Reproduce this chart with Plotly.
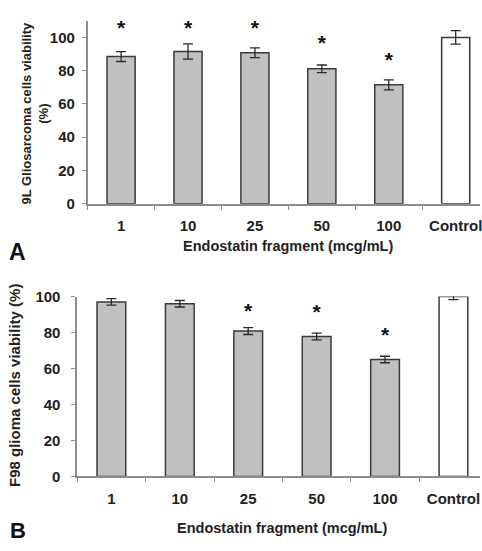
import plotly.graph_objects as go

categories = ["1", "10", "25", "50", "100", "Control"]

# Panel A: 9L gliosarcoma
a_values = [88.5, 91.5, 90.8, 81.1, 71.5, 100.0]
a_errors = [3.0, 4.6, 2.9, 2.3, 3.0, 4.1]
a_star_y = [104.5, 104.5, 104.5, 95.5, 85.5]
a_star_cats = ["1", "10", "25", "50", "100"]

# Panel B: F98 glioma
b_values = [97.0, 96.0, 80.8, 77.8, 65.0, 100.0]
b_errors = [1.8, 1.8, 1.9, 1.9, 1.8, 1.7]
b_star_y = [91.0, 90.3, 77.5]
b_star_cats = ["25", "50", "100"]

y_ticks = [0, 20, 40, 60, 80, 100]

bar_fill = ["#c0c0c0"] * 5 + ["#ffffff"]
FONT = "Liberation Sans, Arial, sans-serif"

fig = go.Figure()

def add_panel(values, errors, star_cats, star_y, xa, ya):
    fig.add_trace(go.Bar(
        x=categories, y=values, width=0.42,
        marker=dict(color=bar_fill, line=dict(color="#3a3a3a", width=1.5)),
        error_y=dict(type="data", array=errors, visible=True, color="#2a2a2a",
                     thickness=1.3, width=5),
        xaxis=xa, yaxis=ya, showlegend=False, cliponaxis=False,
    ))
    fig.add_trace(go.Scatter(
        x=star_cats, y=star_y, mode="text", text=["*"] * len(star_cats),
        textfont=dict(family=FONT, size=21, color="#111111", weight="bold"),
        textposition="middle center",
        xaxis=xa, yaxis=ya, showlegend=False, cliponaxis=False,
    ))

add_panel(a_values, a_errors, a_star_cats, a_star_y, "x", "y")
add_panel(b_values, b_errors, b_star_cats, b_star_y, "x2", "y2")

axis_common = dict(
    showline=True, linecolor="#8c8c8c", linewidth=1.5,
    showgrid=False, zeroline=False,
    ticks="outside", tickcolor="#8c8c8c", ticklen=4, tickwidth=1,
    tickfont=dict(family=FONT, size=15, color="#222222", weight="bold"),
)

fig.update_layout(
    width=482, height=551,
    margin=dict(l=0, r=0, t=0, b=0),
    paper_bgcolor="white", plot_bgcolor="white",
    bargap=0.58,
    xaxis=dict(**axis_common, domain=[88/482, 1], range=[-0.5, 5.363],
               type="category", tickson="boundaries", anchor="y",
               ticklabelstandoff=7),
    yaxis=dict(**axis_common, domain=[0.6352, 0.978], range=[0, 110],
               tickvals=y_ticks, anchor="x", ticklabelstandoff=4),
    xaxis2=dict(**axis_common, domain=[77.5/482, 1], range=[-0.5, 5.388],
                type="category", tickson="boundaries", anchor="y2",
                ticklabelstandoff=8),
    yaxis2=dict(**axis_common, domain=[0.1247, 0.4615], range=[0, 100],
                tickvals=y_ticks, anchor="x2", ticklabelstandoff=8),
    font=dict(family=FONT),
)

ann_font = dict(family=FONT, size=14.5, color="#222222", weight="bold")
fig.add_annotation(text="Endostatin fragment (mcg/mL)", xref="paper", yref="paper",
                   x=289/482, y=1 - 245/551, showarrow=False, font=ann_font,
                   xanchor="center", yanchor="middle")
fig.add_annotation(text="Endostatin fragment (mcg/mL)", xref="paper", yref="paper",
                   x=283/482, y=1 - 535.7/551, showarrow=False, font=ann_font,
                   xanchor="center", yanchor="middle")
fig.add_annotation(text="9L Gliosarcoma cells viability<br>(%)", xref="paper", yref="paper",
                   x=35/482, y=1 - 107/551, showarrow=False,
                   font=dict(family=FONT, size=13, color="#222222", weight="bold"),
                   textangle=-90, xanchor="center", yanchor="middle")
fig.add_annotation(text="F98 glioma cells viability (%)", xref="paper", yref="paper",
                   x=14/482, y=1 - 388/551, showarrow=False,
                   font=dict(family=FONT, size=15, color="#222222", weight="bold"),
                   textangle=-90, xanchor="center", yanchor="middle")
fig.add_annotation(text="A", xref="paper", yref="paper",
                   x=18/482, y=1 - 251/551, showarrow=False,
                   font=dict(family=FONT, size=23, color="#111111", weight="bold"),
                   xanchor="center", yanchor="middle")
fig.add_annotation(text="B", xref="paper", yref="paper",
                   x=18/482, y=1 - 538/551, showarrow=False,
                   font=dict(family=FONT, size=22, color="#111111", weight="bold"),
                   xanchor="center", yanchor="middle")

fig.write_html("out.html")
